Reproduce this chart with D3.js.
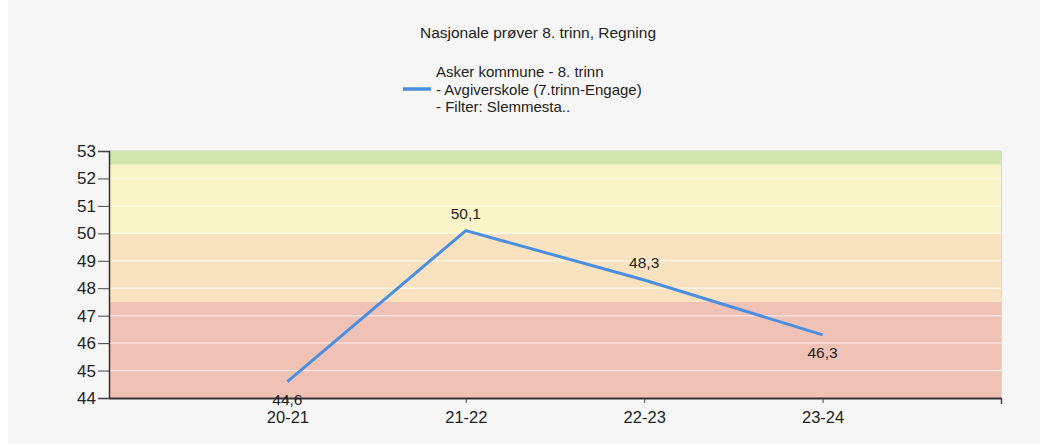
<!DOCTYPE html>
<html><head><meta charset="utf-8">
<script src="https://cdn.jsdelivr.net/npm/d3@7"></script>
<style>
html,body{margin:0;padding:0;background:#fff;}
svg{display:block;}
text{font-family:"Liberation Sans",Arial,sans-serif;fill:#222;}
</style></head><body>
<svg id="chart" width="1040" height="444"></svg>
<script>
const categories = ["20-21", "21-22", "22-23", "23-24"];
const values = [44.6, 50.1, 48.3, 46.3];
const valueLabels = ["44,6", "50,1", "48,3", "46,3"];
const labelAbove = [false, true, true, false];
const yTicks = [44, 45, 46, 47, 48, 49, 50, 51, 52, 53];
const bandStarts = [44, 47.5, 50, 52.5];
const bandEnds = [47.5, 50, 52.5, 53];
const bandColors = ["#f0c1b5", "#f9e2bf", "#f9f5c8", "#d2e6ad"];
const titleText = "Nasjonale prøver 8. trinn, Regning";
const legendLines = ["Asker kommune - 8. trinn", "- Avgiverskole (7.trinn-Engage)", "- Filter: Slemmesta.."];

const svg = d3.select("#chart");
svg.append("rect").attr("x", 8).attr("y", 0).attr("width", 1032).attr("height", 444).attr("fill", "#f6f6f6");

const pLeft = 109, pRight = 1001, pTop = 151, pBottom = 398;
const x = d3.scalePoint().domain(categories).range([pLeft, pRight]).padding(1);
const y = d3.scaleLinear().domain([44, 53]).range([pBottom, pTop]);

// bands
svg.append("g").selectAll("rect").data(bandStarts).join("rect")
  .attr("x", pLeft).attr("width", pRight - pLeft)
  .attr("y", (d, i) => y(bandEnds[i]))
  .attr("height", (d, i) => y(d) - y(bandEnds[i]))
  .attr("fill", (d, i) => bandColors[i]);

// gridlines
svg.append("g").selectAll("line").data(yTicks.slice(1, -1)).join("line")
  .attr("x1", pLeft).attr("x2", pRight)
  .attr("y1", d => y(d)).attr("y2", d => y(d))
  .attr("stroke", "#ffffff").attr("stroke-opacity", 0.55).attr("stroke-width", 1.5);

// border
svg.append("line").attr("x1", pRight + 0.5).attr("x2", pRight + 0.5).attr("y1", pTop).attr("y2", pBottom)
  .attr("stroke", "#d8d8d8");
svg.append("line").attr("x1", pLeft).attr("x2", pRight).attr("y1", pTop - 0.5).attr("y2", pTop - 0.5)
  .attr("stroke", "#e0e0e0");

// y axis
const yAxis = svg.append("g").attr("transform", `translate(${pLeft},0)`)
  .call(d3.axisLeft(y).tickValues(yTicks).tickFormat(d3.format("d")).tickSize(11).tickPadding(2));
yAxis.select(".domain").attr("stroke", "#333").attr("stroke-width", 1.5);
yAxis.selectAll(".tick line").attr("stroke", "#444");
yAxis.selectAll(".tick text").style("font-size", "17px").attr("fill", "#222");

// x axis
const xAxis = svg.append("g").attr("transform", `translate(0,${pBottom})`)
  .call(d3.axisBottom(x).tickSize(5).tickPadding(8).tickSizeOuter(0));
xAxis.select(".domain").attr("stroke", "#333").attr("stroke-width", 2);
xAxis.selectAll(".tick line").attr("stroke", "#444");
xAxis.selectAll(".tick text").style("font-size", "16.5px").attr("fill", "#222");
svg.append("line").attr("x1", pRight + 0.5).attr("x2", pRight + 0.5).attr("y1", pBottom).attr("y2", pBottom + 6)
  .attr("stroke", "#444").attr("stroke-width", 1.5);

// line
const line = d3.line().x((d, i) => x(categories[i])).y(d => y(d));
svg.append("path").datum(values).attr("d", line)
  .attr("fill", "none").attr("stroke", "#4a8ee2").attr("stroke-width", 3).attr("stroke-linejoin", "miter");

// value labels
svg.append("g").selectAll("text").data(values).join("text")
  .attr("x", (d, i) => x(categories[i]))
  .attr("y", (d, i) => labelAbove[i] ? y(d) - 12 : y(d) + 23)
  .attr("text-anchor", "middle").style("font-size", "15.5px")
  .text((d, i) => valueLabels[i]);

// title
svg.append("text").attr("x", 538).attr("y", 38).attr("text-anchor", "middle")
  .style("font-size", "15.5px").text(titleText);

// legend
svg.append("line").attr("x1", 403).attr("x2", 431).attr("y1", 89).attr("y2", 89)
  .attr("stroke", "#4a8ee2").attr("stroke-width", 3.5);
svg.append("g").selectAll("text").data(legendLines).join("text")
  .attr("x", 436).attr("y", (d, i) => 77 + i * 17.5)
  .style("font-size", "15px").text(d => d);
</script>
</body></html>
